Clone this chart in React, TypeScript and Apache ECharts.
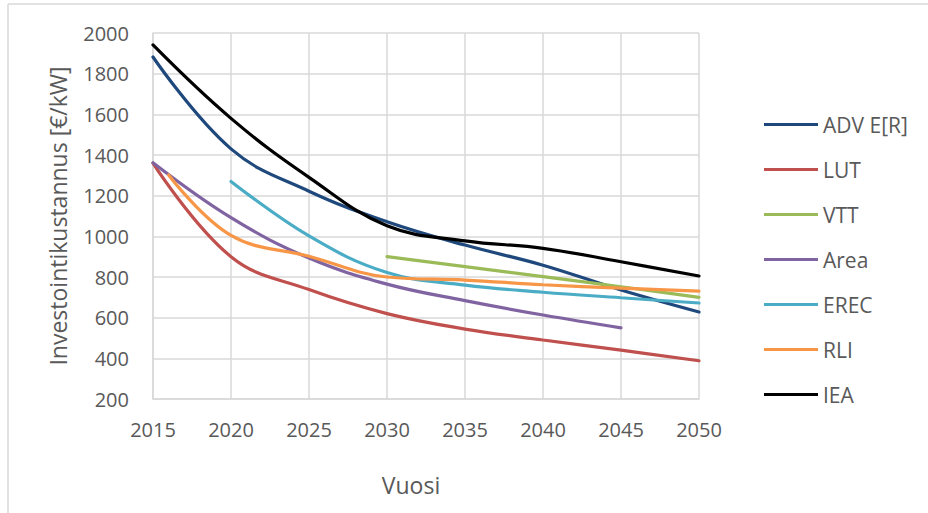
import React, { useEffect, useRef } from "react";
import * as echarts from "echarts";

const years = [2015, 2020, 2025, 2030, 2035, 2040, 2045, 2050];
const advER = [1882, 1430, 1222, 1072, 957, 858, 736, 628];
const lut = [1360, 900, 738, 620, 544, 490, 440, 388];
const vttYears = [2030, 2035, 2040, 2045, 2050];
const vtt = [900, 851, 802, 752, 700];
const areaYears = [2015, 2020, 2025, 2030, 2035, 2040, 2045];
const area = [1362, 1092, 893, 765, 684, 613, 550];
const erecYears = [2020, 2025, 2030, 2035, 2040, 2045, 2050];
const erec = [1270, 1002, 822, 760, 725, 698, 672];
const rliYears = [2016, 2020, 2025, 2030, 2035, 2040, 2045, 2050];
const rli = [1302, 1005, 902, 800, 785, 762, 745, 731];
const iea = [1941, 1580, 1290, 1052, 978, 941, 875, 805];

const yTicks = { min: 200, max: 2000, interval: 200 };
const xTicks = { min: 2015, max: 2050, interval: 5 };

const pair = (xs: number[], vs: number[]) => xs.map((x, i) => [x, vs[i]]);

const FONT = "'Open Sans', 'Noto Sans', sans-serif";
const TXT = "#595959";
const FS = 20;

export default function App() {
  const ref = useRef<HTMLDivElement>(null);
  useEffect(() => {
    if (!ref.current) return;
    const chart = echarts.init(ref.current, undefined, { renderer: "svg" });
    const mk = (name: string, color: string, data: number[][]) => ({
      name,
      type: "line",
      data,
      smooth: 0.4,
      showSymbol: false,
      symbol: "none",
      lineStyle: { color, width: 3.2, cap: "round" },
      itemStyle: { color },
    });
    chart.setOption({
      animation: false,
      textStyle: { fontFamily: FONT },
      grid: { left: 153, top: 33, right: 229, bottom: 114, containLabel: false },
      xAxis: {
        type: "value",
        min: xTicks.min,
        max: xTicks.max,
        interval: xTicks.interval,
        axisLine: { show: true, lineStyle: { color: "#d9d9d9", width: 1.5 } },
        axisTick: { show: false },
        splitLine: { show: true, lineStyle: { color: "#d9d9d9", width: 1.5 } },
        axisLabel: { color: TXT, fontSize: FS, fontFamily: FONT, margin: 20, formatter: (v: number) => String(v) },
      },
      yAxis: {
        type: "value",
        min: yTicks.min,
        max: yTicks.max,
        interval: yTicks.interval,
        axisLine: { show: true, lineStyle: { color: "#d9d9d9", width: 1.5 } },
        axisTick: { show: false },
        splitLine: { show: true, lineStyle: { color: "#d9d9d9", width: 1.5 } },
        axisLabel: { color: TXT, fontSize: FS, fontFamily: FONT, margin: 24, formatter: (v: number) => String(v) },
      },
      legend: {
        orient: "vertical",
        left: 764,
        top: 111,
        padding: 0,
        itemGap: 18,
        itemWidth: 54,
        itemHeight: 3,
        icon: "rect",
        textStyle: { color: TXT, fontSize: 21, fontFamily: FONT, lineHeight: 27, padding: [0, 0, 0, 0] },
        data: ["ADV E[R]", "LUT", "VTT", "Area", "EREC", "RLI", "IEA"],
      },
      graphic: [
        { type: "line", shape: { x1: 8, y1: 4, x2: 928, y2: 4 }, style: { stroke: "#d9d9d9", lineWidth: 1.5 } },
        { type: "line", shape: { x1: 8, y1: 4, x2: 8, y2: 513 }, style: { stroke: "#d9d9d9", lineWidth: 1.5 } },
        {
          type: "text",
          x: 58,
          y: 216,
          rotation: Math.PI / 2,
          style: { text: "Investointikustannus [€/kW]", fill: TXT, fontSize: 23, fontFamily: FONT, align: "center", verticalAlign: "middle" },
        },
        {
          type: "text",
          x: 411,
          y: 485,
          style: { text: "Vuosi", fill: TXT, fontSize: 23, fontFamily: FONT, align: "center", verticalAlign: "middle" },
        },
      ],
      series: [
        mk("ADV E[R]", "#1f497d", pair(years, advER)),
        mk("LUT", "#c0504d", pair(years, lut)),
        mk("VTT", "#9bbb59", pair(vttYears, vtt)),
        mk("Area", "#8064a2", pair(areaYears, area)),
        mk("EREC", "#4bacc6", pair(erecYears, erec)),
        mk("RLI", "#f79646", pair(rliYears, rli)),
        mk("IEA", "#000000", pair(years, iea)),
      ],
    });
    return () => chart.dispose();
  }, []);
  return <div ref={ref} style={{ position: "absolute", left: 0, top: 0, width: 928, height: 513 }} />;
}
